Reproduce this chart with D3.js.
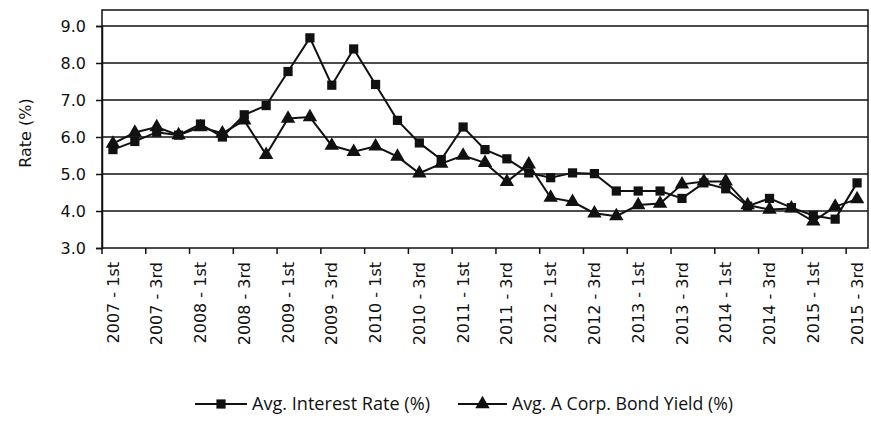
<!DOCTYPE html>
<html>
<head>
<meta charset="utf-8">
<script src="https://cdn.jsdelivr.net/npm/d3@7"></script>
<style>
  body { margin: 0; background: #fff; }
</style>
</head>
<body>
<div id="chart"></div>
<script>
// Quarters on the category axis
var quarters = [
    '2007 - 1st', '2007 - 2nd', '2007 - 3rd', '2007 - 4th',
    '2008 - 1st', '2008 - 2nd', '2008 - 3rd', '2008 - 4th',
    '2009 - 1st', '2009 - 2nd', '2009 - 3rd', '2009 - 4th',
    '2010 - 1st', '2010 - 2nd', '2010 - 3rd', '2010 - 4th',
    '2011 - 1st', '2011 - 2nd', '2011 - 3rd', '2011 - 4th',
    '2012 - 1st', '2012 - 2nd', '2012 - 3rd', '2012 - 4th',
    '2013 - 1st', '2013 - 2nd', '2013 - 3rd', '2013 - 4th',
    '2014 - 1st', '2014 - 2nd', '2014 - 3rd', '2014 - 4th',
    '2015 - 1st', '2015 - 2nd', '2015 - 3rd'
];

// Avg. Interest Rate (%)
var interestRate = [5.66, 5.88, 6.13, 6.05, 6.35, 6.0, 6.6, 6.85, 7.77, 8.68, 7.4, 8.38,
    7.42, 6.45, 5.84, 5.39, 6.27, 5.66, 5.41, 5.03, 4.9, 5.03, 5.01, 4.54,
    4.54, 4.54, 4.34, 4.76, 4.6, 4.13, 4.34, 4.09, 3.88, 3.78, 4.76];

// Avg. A Corp. Bond Yield (%)
var bondYield = [5.82, 6.12, 6.27, 6.05, 6.27, 6.1, 6.45, 5.52, 6.5, 6.54, 5.77, 5.6,
    5.75, 5.47, 5.02, 5.28, 5.5, 5.3, 4.79, 5.26, 4.36, 4.25, 3.94, 3.86,
    4.16, 4.2, 4.72, 4.8, 4.8, 4.16, 4.04, 4.07, 3.72, 4.12, 4.32];

var yTicks = [3, 4, 5, 6, 7, 8, 9];

var svgWidth = 871;
var svgHeight = 421;

var plotLeft = 102;
var plotRight = 868;
var plotTop = 10;
var plotBottom = 248;

var axisFont = "'DejaVu Sans', Verdana, sans-serif";

var svg = d3.select('#chart')
    .append('svg')
    .attr('width', svgWidth)
    .attr('height', svgHeight);

var x = d3.scaleBand()
    .domain(quarters)
    .range([plotLeft, plotRight])
    .padding(0);

var y = d3.scaleLinear()
    .domain([3, 9])
    .range([plotBottom, 26]);

var cx = d => x(d) + x.bandwidth() / 2;

// gridlines
svg.append('g')
    .selectAll('line')
    .data(yTicks.slice(1))
    .enter()
    .append('line')
    .attr('x1', plotLeft)
    .attr('x2', plotRight)
    .attr('y1', d => y(d))
    .attr('y2', d => y(d))
    .attr('stroke', '#111')
    .attr('stroke-width', 1.6);

// plot border
svg.append('rect')
    .attr('x', plotLeft)
    .attr('y', plotTop)
    .attr('width', plotRight - plotLeft)
    .attr('height', plotBottom - plotTop)
    .attr('fill', 'none')
    .attr('stroke', '#111')
    .attr('stroke-width', 1.5);

// y axis
var yAxis = d3.axisLeft(y)
    .tickValues(yTicks)
    .tickFormat(d3.format('.1f'))
    .tickSize(6)
    .tickPadding(10);

svg.append('g')
    .attr('transform', `translate(${plotLeft},0)`)
    .call(yAxis)
    .call(g => g.select('.domain').attr('stroke', '#111').attr('stroke-width', 1.5))
    .call(g => g.selectAll('.tick line').attr('stroke', '#111').attr('stroke-width', 1.5))
    .call(g => g.selectAll('.tick text')
        .style('font-family', axisFont)
        .style('font-size', '16px')
        .attr('fill', '#111'));

svg.append('text')
    .attr('transform', `translate(31,${(plotTop + plotBottom) / 2 + 4}) rotate(-90)`)
    .attr('text-anchor', 'middle')
    .style('font-family', axisFont)
    .style('font-size', '16px')
    .attr('fill', '#111')
    .text('Rate (%)');

// x axis: label every other quarter, ticks between pairs
var xAxis = d3.axisBottom(x)
    .tickValues(quarters.filter((d, i) => i % 2 === 0))
    .tickSize(0)
    .tickPadding(0);

var xg = svg.append('g')
    .attr('transform', `translate(0,${plotBottom})`)
    .call(xAxis);

xg.select('.domain').remove();

xg.selectAll('.tick text')
    .attr('transform', 'rotate(-90)')
    .attr('text-anchor', 'end')
    .attr('dy', '0.35em')
    .attr('x', -14)
    .attr('y', 0)
    .style('font-family', axisFont)
    .style('font-size', '16px')
    .attr('fill', '#111');

svg.append('g')
    .selectAll('line')
    .data(quarters.filter((d, i) => i % 2 === 0))
    .enter()
    .append('line')
    .attr('x1', d => x(d))
    .attr('x2', d => x(d))
    .attr('y1', plotBottom)
    .attr('y2', plotBottom + 6)
    .attr('stroke', '#111')
    .attr('stroke-width', 1.5);

// series
var series = [
    { name: 'Avg. Interest Rate (%)', values: interestRate, symbol: d3.symbolSquare, size: 85 },
    { name: 'Avg. A Corp. Bond Yield (%)', values: bondYield, symbol: d3.symbolTriangle, size: 90 }
];

var line = d3.line()
    .x((d, i) => cx(quarters[i]))
    .y(d => y(d));

series.forEach(function(s) {
    svg.append('path')
        .datum(s.values)
        .attr('d', line)
        .attr('fill', 'none')
        .attr('stroke', '#111')
        .attr('stroke-width', 2);

    svg.append('g')
        .selectAll('path')
        .data(s.values)
        .enter()
        .append('path')
        .attr('d', d3.symbol().type(s.symbol).size(s.size))
        .attr('transform', (d, i) => `translate(${cx(quarters[i])},${y(d)})`)
        .attr('fill', '#111');
});

// legend
var legendY = 404;
var legendItems = [
    { x1: 195, x2: 247, tx: 252, w: 178 },
    { x1: 458, x2: 507, tx: 512, w: 221 }
];

legendItems.forEach(function(item, i) {
    var s = series[i];
    svg.append('line')
        .attr('x1', item.x1)
        .attr('x2', item.x2)
        .attr('y1', legendY)
        .attr('y2', legendY)
        .attr('stroke', '#111')
        .attr('stroke-width', 2);
    svg.append('path')
        .attr('d', d3.symbol().type(s.symbol).size(s.size)())
        .attr('transform', `translate(${(item.x1 + item.x2) / 2},${legendY})`)
        .attr('fill', '#111');
    svg.append('text')
        .attr('x', item.tx)
        .attr('y', legendY)
        .attr('dy', '0.35em')
        .attr('textLength', item.w)
        .attr('lengthAdjust', 'spacingAndGlyphs')
        .style('font-family', "'Open Sans', sans-serif")
        .style('font-size', '18px')
        .attr('fill', '#111')
        .text(s.name);
});
</script>
</body>
</html>
